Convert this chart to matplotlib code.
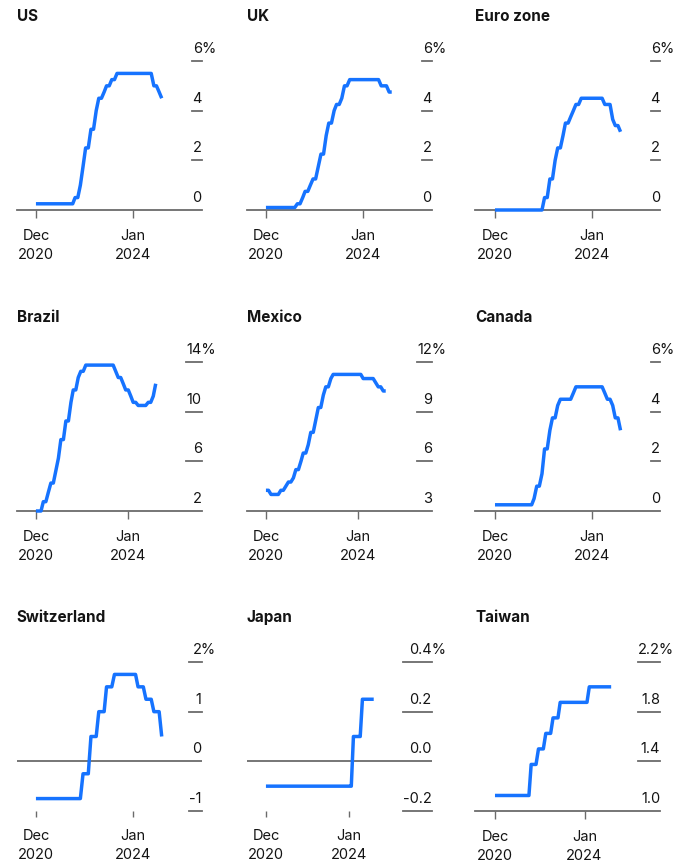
import matplotlib
matplotlib.use("Agg")
import matplotlib.pyplot as plt
import matplotlib.dates as mdates
import pandas as pd

plt.rcParams['font.family'] = ['Inter', 'DejaVu Sans']

# monthly policy rates, Dec 2020 .. Dec 2024
months = pd.date_range("2020-12-01", periods=49, freq="MS")

us_rate = [0.25,
           0.25, 0.25, 0.25, 0.25, 0.25, 0.25, 0.25, 0.25, 0.25, 0.25, 0.25, 0.25,
           0.25, 0.25, 0.5, 0.5, 1.0, 1.75, 2.5, 2.5, 3.25, 3.25, 4.0, 4.5,
           4.5, 4.75, 5.0, 5.0, 5.25, 5.25, 5.5, 5.5, 5.5, 5.5, 5.5, 5.5,
           5.5, 5.5, 5.5, 5.5, 5.5, 5.5, 5.5, 5.5, 5.0, 5.0, 4.75, 4.5]
uk_rate = [0.1,
           0.1, 0.1, 0.1, 0.1, 0.1, 0.1, 0.1, 0.1, 0.1, 0.1, 0.1, 0.25,
           0.25, 0.5, 0.75, 0.75, 1.0, 1.25, 1.25, 1.75, 2.25, 2.25, 3.0, 3.5,
           3.5, 4.0, 4.25, 4.25, 4.5, 5.0, 5.0, 5.25, 5.25, 5.25, 5.25, 5.25,
           5.25, 5.25, 5.25, 5.25, 5.25, 5.25, 5.25, 5.0, 5.0, 5.0, 4.75, 4.75]
euro_rate = [0.0,
             0.0, 0.0, 0.0, 0.0, 0.0, 0.0, 0.0, 0.0, 0.0, 0.0, 0.0, 0.0,
             0.0, 0.0, 0.0, 0.0, 0.0, 0.0, 0.5, 0.5, 1.25, 1.25, 2.0, 2.5,
             2.5, 3.0, 3.5, 3.5, 3.75, 4.0, 4.25, 4.25, 4.5, 4.5, 4.5, 4.5,
             4.5, 4.5, 4.5, 4.5, 4.5, 4.25, 4.25, 4.25, 3.65, 3.4, 3.4, 3.15]
brazil_rate = [2.0,
               2.0, 2.0, 2.75, 2.75, 3.5, 4.25, 4.25, 5.25, 6.25, 7.75, 7.75, 9.25,
               9.25, 10.75, 11.75, 11.75, 12.75, 13.25, 13.25, 13.75, 13.75, 13.75, 13.75, 13.75,
               13.75, 13.75, 13.75, 13.75, 13.75, 13.75, 13.75, 13.25, 12.75, 12.75, 12.25, 11.75,
               11.75, 11.25, 10.75, 10.75, 10.5, 10.5, 10.5, 10.5, 10.75, 10.75, 11.25, 12.25]
mexico_rate = [4.25,
               4.25, 4.0, 4.0, 4.0, 4.0, 4.25, 4.25, 4.5, 4.75, 4.75, 5.0, 5.5,
               5.5, 6.0, 6.5, 6.5, 7.0, 7.75, 7.75, 8.5, 9.25, 9.25, 10.0, 10.5,
               10.5, 11.0, 11.25, 11.25, 11.25, 11.25, 11.25, 11.25, 11.25, 11.25, 11.25, 11.25,
               11.25, 11.25, 11.0, 11.0, 11.0, 11.0, 11.0, 10.75, 10.5, 10.5, 10.25, 10.25]
canada_rate = [0.25,
               0.25, 0.25, 0.25, 0.25, 0.25, 0.25, 0.25, 0.25, 0.25, 0.25, 0.25, 0.25,
               0.25, 0.25, 0.5, 1.0, 1.0, 1.5, 2.5, 2.5, 3.25, 3.75, 3.75, 4.25,
               4.5, 4.5, 4.5, 4.5, 4.5, 4.75, 5.0, 5.0, 5.0, 5.0, 5.0, 5.0,
               5.0, 5.0, 5.0, 5.0, 5.0, 4.75, 4.5, 4.5, 4.25, 3.75, 3.75, 3.25]
swiss_rate = [-0.75,
              -0.75, -0.75, -0.75, -0.75, -0.75, -0.75, -0.75, -0.75, -0.75, -0.75, -0.75, -0.75,
              -0.75, -0.75, -0.75, -0.75, -0.75, -0.25, -0.25, -0.25, 0.5, 0.5, 0.5, 1.0,
              1.0, 1.0, 1.5, 1.5, 1.5, 1.75, 1.75, 1.75, 1.75, 1.75, 1.75, 1.75,
              1.75, 1.75, 1.5, 1.5, 1.5, 1.25, 1.25, 1.25, 1.0, 1.0, 1.0, 0.5]
japan_rate = [-0.1,
              -0.1, -0.1, -0.1, -0.1, -0.1, -0.1, -0.1, -0.1, -0.1, -0.1, -0.1, -0.1,
              -0.1, -0.1, -0.1, -0.1, -0.1, -0.1, -0.1, -0.1, -0.1, -0.1, -0.1, -0.1,
              -0.1, -0.1, -0.1, -0.1, -0.1, -0.1, -0.1, -0.1, -0.1, -0.1, -0.1, -0.1,
              -0.1, -0.1, 0.1, 0.1, 0.1, 0.1, 0.25, 0.25, 0.25, 0.25, 0.25, 0.25]
taiwan_rate = [1.125,
               1.125, 1.125, 1.125, 1.125, 1.125, 1.125, 1.125, 1.125, 1.125, 1.125, 1.125, 1.125,
               1.125, 1.125, 1.375, 1.375, 1.375, 1.5, 1.5, 1.5, 1.625, 1.625, 1.625, 1.75,
               1.75, 1.75, 1.875, 1.875, 1.875, 1.875, 1.875, 1.875, 1.875, 1.875, 1.875, 1.875,
               1.875, 1.875, 2.0, 2.0, 2.0, 2.0, 2.0, 2.0, 2.0, 2.0, 2.0, 2.0]

titles = ["US", "UK", "Euro zone", "Brazil", "Mexico", "Canada",
          "Switzerland", "Japan", "Taiwan"]
series = [us_rate, uk_rate, euro_rate, brazil_rate, mexico_rate, canada_rate,
          swiss_rate, japan_rate, taiwan_rate]
y_ticks = [[0, 2, 4, 6], [0, 2, 4, 6], [0, 2, 4, 6],
           [2, 6, 10, 14], [3, 6, 9, 12], [0, 2, 4, 6],
           [-1, 0, 1, 2], [-0.2, 0.0, 0.2, 0.4], [1.0, 1.4, 1.8, 2.2]]
y_labels = [["0", "2", "4", "6"], ["0", "2", "4", "6"], ["0", "2", "4", "6"],
            ["2", "6", "10", "14"], ["3", "6", "9", "12"], ["0", "2", "4", "6"],
            ["-1", "0", "1", "2"], ["-0.2", "0.0", "0.2", "0.4"], ["1.0", "1.4", "1.8", "2.2"]]

x_tick_dates = [pd.Timestamp("2020-12-01"), pd.Timestamp("2024-01-01")]
x_tick_labels = ["Dec\n2020", "Jan\n2024"]

# where the two date ticks sit inside each panel (axes fraction)
tick_fracs = [(0.104, 0.628), (0.104, 0.628), (0.108, 0.631),
              (0.104, 0.603), (0.104, 0.603), (0.108, 0.631),
              (0.104, 0.628), (0.104, 0.553), (0.108, 0.592)]

BLUE = '#1673ff'
GREY = '#6b6b6b'
TEXT = '#141414'

W, H = 677, 862
fig = plt.figure(figsize=(W / 100, H / 100), dpi=100)
renderer = fig.canvas.get_renderer()

col_left = [16.7, 246.7, 475.0]
row_bottom = [211.0, 512.0, 812.0]
ax_w, ax_h = 185.0, 149.0

for i, title in enumerate(titles):
    r, c = divmod(i, 3)
    ax = fig.add_axes([col_left[c] / W, 1 - row_bottom[r] / H, ax_w / W, ax_h / H])
    ticks = y_ticks[i]
    labels = y_labels[i]
    has_zero = ticks[0] < 0

    ax.plot(months, series[i], color=BLUE, lw=2.5, clip_on=False, zorder=4,
            solid_joinstyle='round', solid_capstyle='butt')

    for s in ['top', 'right', 'left']:
        ax.spines[s].set_visible(False)
    if has_zero:
        ax.spines['bottom'].set_visible(False)
        ax.axhline(0, color=GREY, lw=1.3, zorder=2)
    else:
        ax.spines['bottom'].set_color(GREY)
        ax.spines['bottom'].set_linewidth(1.3)

    ax.set_yticks([])
    ax.set_xticks(x_tick_dates, x_tick_labels)
    ax.tick_params(axis='x', length=4.5 if has_zero else 5.8, width=1.0, color=GREY,
                   pad=8 if has_zero else 7, labelsize=10.5, labelcolor=TEXT)
    for lbl in ax.get_xticklabels():
        lbl.set_linespacing(1.45)

    # labels sit above short dashes on the right, numbers right-aligned
    texts = []
    for v, lab in zip(ticks[:-1], labels[:-1]):
        t = ax.annotate(lab, xy=(1, v), xycoords=ax.get_yaxis_transform(),
                        xytext=(0, 6.5), textcoords='offset points',
                        ha='right', va='baseline', fontsize=10.5, color=TEXT,
                        annotation_clip=False)
        texts.append(t)
    # top label carries the unit: measure the number, then hang the % past the edge
    probe = ax.annotate(labels[-1], xy=(1, ticks[-1]), xycoords=ax.get_yaxis_transform(),
                        xytext=(0, 6.5), textcoords='offset points',
                        ha='right', va='baseline', fontsize=10.5, color=TEXT,
                        annotation_clip=False)
    top_w = probe.get_window_extent(renderer).width
    probe.remove()
    ax.annotate(labels[-1] + '%', xy=(1, ticks[-1]), xycoords=ax.get_yaxis_transform(),
                xytext=(-top_w * 72 / 100, 6.5), textcoords='offset points',
                ha='left', va='baseline', fontsize=10.5, color=TEXT,
                annotation_clip=False)

    d0, d1 = mdates.date2num(x_tick_dates)
    span = (d1 - d0) / (tick_fracs[i][1] - tick_fracs[i][0])
    x_left = d0 - tick_fracs[i][0] * span

    dash_px = max([t.get_window_extent(renderer).width for t in texts] + [top_w])
    dash_frac = dash_px / ax_w
    for v in ticks:
        if (has_zero and v == 0) or (not has_zero and v == ticks[0]):
            continue
        ax.plot([1 - dash_frac, 1], [v, v], transform=ax.get_yaxis_transform(),
                color=GREY, lw=1.3, clip_on=False, zorder=2)
    ax.set_xlim(x_left, x_left + span)
    ax.set_ylim(ticks[0], ticks[-1])

    ax.annotate(title, xy=(0, 1), xycoords='axes fraction', xytext=(0, 29.5),
                textcoords='offset points', ha='left', va='baseline',
                fontsize=11, fontweight='bold', color=TEXT)

fig.savefig('out.png', dpi=100)
